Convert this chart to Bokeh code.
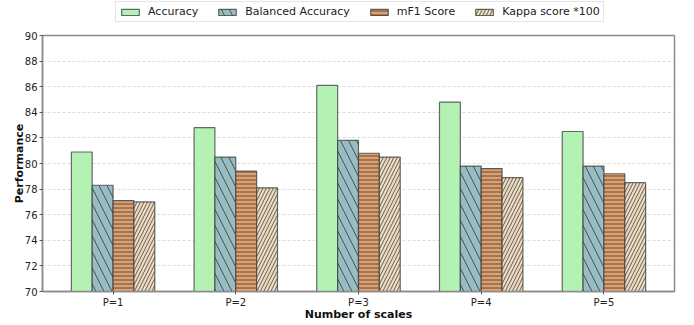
from bokeh.plotting import figure
from bokeh.layouts import column
from bokeh.models import ColumnDataSource, FactorRange, Legend, LegendItem, Range1d
from bokeh.transform import dodge
from bokeh.embed import file_html
from bokeh.resources import INLINE

# Performance per number of scales
scales = ["P=1", "P=2", "P=3", "P=4", "P=5"]
accuracy = [80.9, 82.8, 86.1, 84.8, 82.5]
balanced_accuracy = [78.3, 80.5, 81.8, 79.8, 79.8]
mf1_score = [77.1, 79.4, 80.8, 79.6, 79.2]
kappa_x100 = [77.0, 78.1, 80.5, 78.9, 78.5]

source = ColumnDataSource(dict(
    scale=scales,
    acc=accuracy,
    bal=balanced_accuracy,
    mf1=mf1_score,
    kappa=kappa_x100,
))

FONT = "DejaVu Sans"
W = 694
LEG_H = 29
MAIN_H = 325 - LEG_H

fig = figure(
    x_range=FactorRange(factors=scales, range_padding=0.03, range_padding_units="percent"),
    y_range=(70, 90),
    width=W, height=MAIN_H,
    output_backend="svg", toolbar_location=None,
    min_border_left=42, min_border_right=20, min_border_top=6, min_border_bottom=34,
)

# strip that only carries the legend
leg_fig = figure(
    x_range=FactorRange(factors=scales), y_range=Range1d(0, 1),
    width=W, height=LEG_H,
    output_backend="svg", toolbar_location=None,
    min_border=0, outline_line_color=None,
)
leg_fig.axis.visible = False
leg_fig.grid.visible = False

bar_w = 0.17
series = [
    ("acc", "Accuracy", "#b3f2b3", None, 1, -0.255),
    ("bal", "Balanced Accuracy", "#97bcc1", "\\", 16, -0.085),
    ("mf1", "mF1 Score", "#e0a06e", "-", 4, 0.085),
    ("kappa", "Kappa score *100", "#eedcc0", "/", 7, 0.255),
]

items = []
for col, label, color, hatch, scale, off in series:
    style = dict(
        top=col, bottom=70, width=bar_w, source=source,
        fill_color=color, fill_alpha=1.0,
        line_color="#3a3a3a", line_alpha=0.75, line_width=1.2,
    )
    if hatch:
        style.update(hatch_pattern=hatch, hatch_scale=scale, hatch_weight=0.9,
                     hatch_color="#2a2a2a", hatch_alpha=0.8)
    fig.vbar(x=dodge("scale", off, range=fig.x_range), **style)
    # key swatch for the legend strip: the bars themselves stay muted (invisible)
    r = leg_fig.vbar(x=dodge("scale", off, range=leg_fig.x_range), muted_alpha=0, **style)
    r.muted = True
    items.append(LegendItem(label=label, renderers=[r]))

legend = Legend(
    items=items, orientation="horizontal", location=(73, LEG_H - 22),
    label_text_font=FONT, label_text_font_size="11px", label_text_color="#222222",
    glyph_width=22, glyph_height=8, label_standoff=7, spacing=18,
    padding=3, margin=0,
    border_line_color="#cccccc", border_line_width=1,
    background_fill_color="white",
)
leg_fig.add_layout(legend, "center")

# frame and axes
fig.outline_line_color = "#8a8a8a"
fig.outline_line_width = 1.5
for ax in (fig.xaxis[0], fig.yaxis[0]):
    ax.axis_line_color = "#8a8a8a"
    ax.axis_line_width = 1.5
    ax.major_tick_line_color = "#555555"
    ax.major_tick_in = 0
    ax.major_tick_out = 3
    ax.minor_tick_line_color = None
    ax.major_label_text_font = FONT
    ax.major_label_text_font_size = "10px"
    ax.major_label_text_color = "#222222"
    ax.axis_label_text_font = FONT
    ax.axis_label_text_font_size = "11px"
    ax.axis_label_text_font_style = "bold"
    ax.axis_label_text_color = "#111111"
    ax.major_label_standoff = 2

fig.yaxis.axis_label_standoff = -4
fig.xaxis.axis_label_standoff = -3

fig.yaxis.ticker = list(range(70, 91, 2))
fig.yaxis.axis_label = "Performance"
fig.xaxis.axis_label = "Number of scales"

fig.xgrid.grid_line_color = None
fig.ygrid.grid_line_color = "#d4d4d4"
fig.ygrid.grid_line_dash = "3 2"
fig.ygrid.grid_line_width = 0.8

for f in (fig, leg_fig):
    f.background_fill_color = "white"
    f.border_fill_color = "white"

p = column(leg_fig, fig, spacing=0)

open("out.html", "w").write(file_html(p, INLINE))
